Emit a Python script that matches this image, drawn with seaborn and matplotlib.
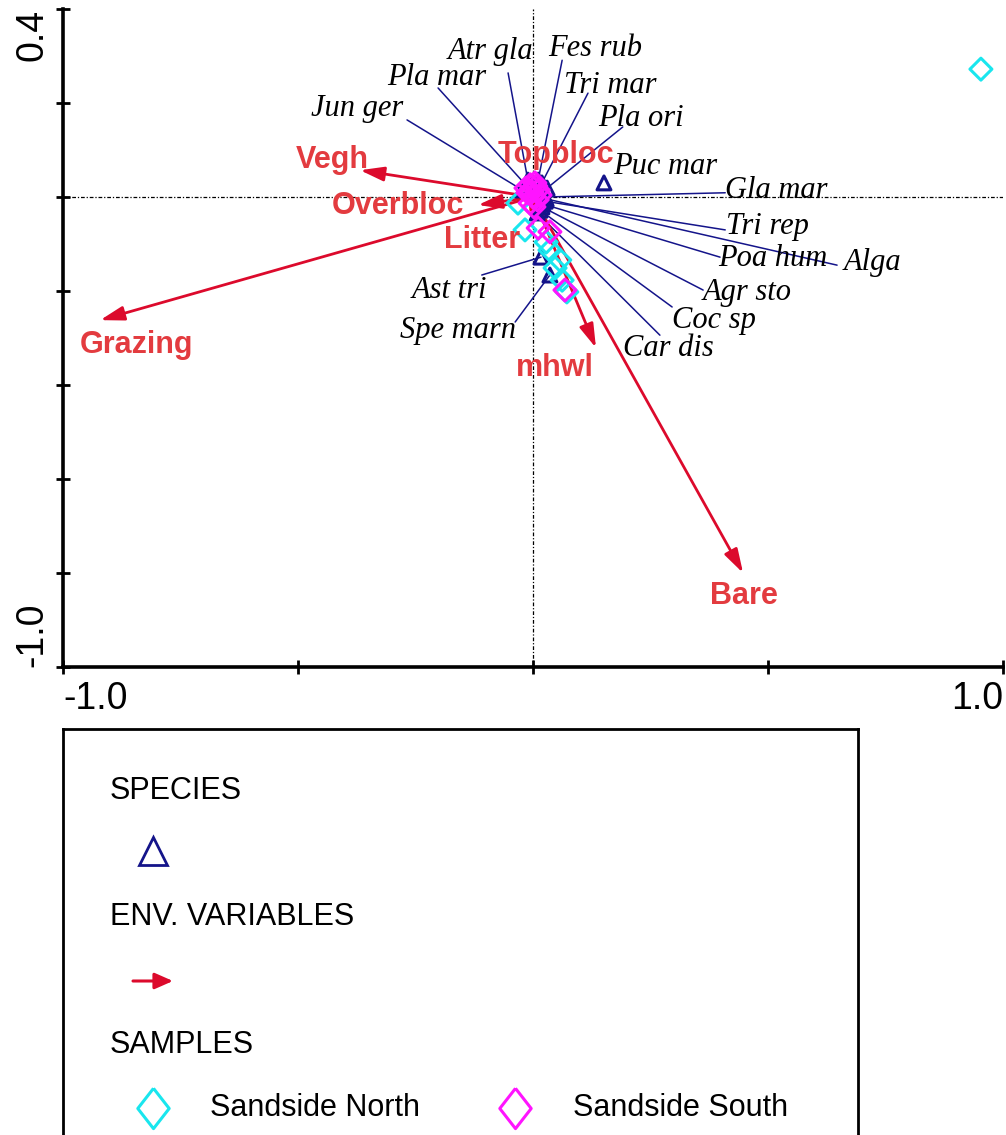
import matplotlib
matplotlib.use("Agg")
import matplotlib.pyplot as plt
import pandas as pd
import seaborn as sns

# ---- species scores (axis 1, axis 2) ----
species_names = ["Jun ger", "Pla mar", "Atr gla", "Fes rub", "Tri mar", "Pla ori",
                 "Puc mar", "Gla mar", "Tri rep", "Poa hum", "Alga", "Agr sto",
                 "Coc sp", "Car dis", "Ast tri", "Spe marn"]
species_ax1 = [-0.023, -0.013, -0.011, 0.011, 0.019, 0.030, 0.151, 0.026,
               0.026, 0.021, 0.028, 0.019, 0.015, 0.009, 0.017, 0.036]
species_ax2 = [0.015, 0.023, 0.036, 0.036, 0.030, 0.019, 0.030, 0.000,
               -0.009, -0.015, -0.004, -0.021, -0.028, -0.034, -0.128, -0.166]

# ---- environmental variables (arrow tips) ----
env_names = ["Vegh", "Overbloc", "Grazing", "Topbloc", "Litter", "mhwl", "Bare"]
env_ax1 = [-0.368, -0.117, -0.921, 0.026, -0.006, 0.134, 0.447]
env_ax2 = [0.057, -0.017, -0.262, 0.043, -0.038, -0.321, -0.800]

# ---- sample scores ----
north_ax1 = [0.953, -0.032, -0.017, 0.028, 0.036, 0.057, 0.047, 0.062, 0.072]
north_ax2 = [0.272, -0.013, -0.070, -0.096, -0.113, -0.134, -0.151, -0.177, -0.202]
south_ax1 = [-0.006, 0.004, 0.011, -0.011, 0.000, 0.009, -0.006, 0.015, -0.015,
             0.002, -0.002, 0.006, 0.011, 0.036, 0.068]
south_ax2 = [0.026, 0.030, 0.015, 0.009, 0.000, -0.006, -0.013, 0.004, 0.019,
             -0.021, 0.011, 0.023, -0.066, -0.074, -0.198]

# ---- label layout (leader line end, text anchor) ----
species_line_end = [(-0.268, 0.164), (-0.202, 0.232), (-0.053, 0.264), (0.062, 0.291),
                    (0.117, 0.221), (0.191, 0.149), None, (0.409, 0.009),
                    (0.409, -0.070), (0.398, -0.128), (0.647, -0.145), (0.362, -0.198),
                    (0.296, -0.234), (0.270, -0.294), (-0.109, -0.166), (-0.038, -0.266)]
species_text_pos = [(-0.374, 0.189), (-0.204, 0.255), (-0.091, 0.309), (0.132, 0.317),
                    (0.164, 0.238), (0.230, 0.168), (0.281, 0.064), (0.517, 0.013),
                    (0.498, -0.062), (0.511, -0.130), (0.723, -0.140), (0.455, -0.204),
                    (0.385, -0.262), (0.287, -0.323), (-0.177, -0.198), (-0.160, -0.285)]
env_text_pos = [(-0.426, 0.079), (-0.287, -0.019), (-0.843, -0.315), (0.049, 0.089),
                (-0.109, -0.091), (0.047, -0.364), (0.449, -0.849)]

NAVY = "#14148a"
RED = "#dc0a2c"
RED_TXT = "#e33b3f"
CYAN = "#19e6ee"
MAGENTA = "#ff14ff"

sns.set_theme(style="white")
plt.rcParams["font.family"] = ["Liberation Sans", "DejaVu Sans"]

W, H = 1006, 1135
fig = plt.figure(figsize=(W / 100, H / 100), dpi=100)
ax = fig.add_axes([63 / W, 1 - 667 / H, 940 / W, 658 / H])
ax.set_xlim(-1.0, 1.0)
ax.set_ylim(-1.0, 0.4)

# reference lines through the origin
dash = (0, (3, 1.5, 1, 1.5))
ax.axhline(0, color="black", lw=0.9, ls=dash, zorder=1)
ax.axvline(0, color="black", lw=0.9, ls=dash, zorder=1)

species = pd.DataFrame({"ax1": species_ax1, "ax2": species_ax2, "name": species_names})
north = pd.DataFrame({"ax1": north_ax1, "ax2": north_ax2})
south = pd.DataFrame({"ax1": south_ax1, "ax2": south_ax2})

# species leader lines and labels
for (sx, sy), end, pos, name in zip(zip(species_ax1, species_ax2), species_line_end,
                                    species_text_pos, species_names):
    if end is not None:
        ax.plot([sx, end[0]], [sy, end[1]], color=NAVY, lw=1.1, zorder=2)
    ax.text(pos[0], pos[1], name, ha="center", va="center", fontsize=22,
            family="Liberation Serif", style="italic", color="black", zorder=6)

# environmental arrows
for ex, ey, pos, name in zip(env_ax1, env_ax2, env_text_pos, env_names):
    ax.annotate("", xy=(ex, ey), xytext=(0, 0),
                arrowprops=dict(arrowstyle="-|>,head_length=0.6,head_width=0.18",
                                mutation_scale=24, color=RED, lw=2.0,
                                shrinkA=0, shrinkB=0), zorder=3)
    ax.text(pos[0], pos[1], name, ha="center", va="center", fontsize=22,
            fontweight="bold", color=RED_TXT, zorder=7)

# species points
sns.scatterplot(data=species, x="ax1", y="ax2", marker="^", s=100, ax=ax,
                legend=False, zorder=4)
coll = ax.collections[-1]
coll.set_facecolor("none")
coll.set_edgecolor(NAVY)
coll.set_linewidth(2.2)

# sample points
for df, col in ((north, CYAN), (south, MAGENTA)):
    sns.scatterplot(data=df, x="ax1", y="ax2", marker="D", s=125, ax=ax,
                    legend=False, zorder=5)
    c = ax.collections[-1]
    c.set_facecolor("none")
    c.set_edgecolor(col)
    c.set_linewidth(2.2)

ax.set_xlabel("")
ax.set_ylabel("")
ax.set_xticks([-1.0, -0.5, 0.0, 0.5, 1.0])
ax.set_xticklabels(["-1.0", "", "", "", "1.0"])
ax.set_yticks([-1.0, -0.8, -0.6, -0.4, -0.2, 0.0, 0.2, 0.4])
ax.set_yticklabels(["-1.0", "", "", "", "", "", "", "0.4"], rotation=90)
ax.tick_params(axis="both", direction="inout", length=10, width=2.0,
               labelsize=27, colors="black", left=True, bottom=True)
ax.tick_params(axis="x", pad=5)
ax.tick_params(axis="y", pad=4)
xl = ax.get_xticklabels()
xl[0].set_ha("left")
xl[-1].set_ha("right")
yl = ax.get_yticklabels()
yl[0].set_va("bottom")
yl[-1].set_va("top")
for s in ("top", "right"):
    ax.spines[s].set_visible(False)
for s in ("left", "bottom"):
    ax.spines[s].set_color("black")
    ax.spines[s].set_linewidth(2.6)

# ---- legend panel (pixel layout) ----
top_px = 729
bot_px = H + 25
lax = fig.add_axes([63 / W, 1 - bot_px / H, (858 - 63) / W, (bot_px - top_px) / H])
lax.set_xlim(63, 858)
lax.set_ylim(bot_px, top_px)
lax.set_xticks([])
lax.set_yticks([])
for s in lax.spines.values():
    s.set_color("black")
    s.set_linewidth(2.0)
lax.set_facecolor("white")

# slightly elongated diamond for the legend keys
legend_diamond = [(0, 1), (0.78, 0), (0, -1), (-0.78, 0), (0, 1)]

lfs = 22
lax.text(110, 791, "SPECIES", ha="left", va="center", fontsize=lfs, color="black")
lax.plot([153], [851], marker="^", ms=20, mfc="none", mec=NAVY, mew=2.0, ls="none")
lax.text(110, 917, "ENV. VARIABLES", ha="left", va="center", fontsize=lfs, color="black")
lax.annotate("", xy=(173, 981), xytext=(133, 981),
             arrowprops=dict(arrowstyle="-|>,head_length=0.5,head_width=0.22",
                             mutation_scale=22, color=RED, lw=2.2,
                             shrinkA=0, shrinkB=0))
lax.text(110, 1045, "SAMPLES", ha="left", va="center", fontsize=lfs, color="black")
lax.plot([153], [1108], marker=legend_diamond, ms=29, mfc="none", mec=CYAN, mew=2.2,
         ls="none")
lax.text(210, 1108, "Sandside North", ha="left", va="center", fontsize=lfs, color="black")
lax.plot([515], [1108], marker=legend_diamond, ms=29, mfc="none", mec=MAGENTA, mew=2.2,
         ls="none")
lax.text(573, 1108, "Sandside South", ha="left", va="center", fontsize=lfs, color="black")

fig.savefig("out.png", dpi=100)
